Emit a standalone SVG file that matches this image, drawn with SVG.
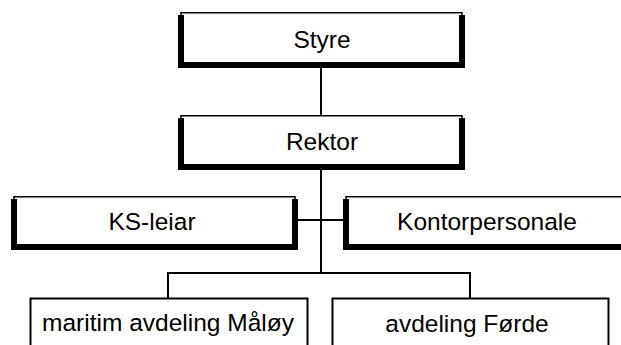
<svg xmlns="http://www.w3.org/2000/svg" width="621" height="345" viewBox="0 0 621 345">
<style>
  .thin{fill:#fff;stroke:#000;stroke-width:1.5}
  .thick{fill:none;stroke:#000;stroke-width:6;stroke-linejoin:miter;stroke-linecap:butt}
  .box{fill:#fff;stroke:#000;stroke-width:2}
  .conn{fill:none;stroke:#000;stroke-width:2}
  text{font-family:"Liberation Sans",Arial,sans-serif;font-size:24.5px;fill:#000;text-anchor:middle}
</style>
<rect width="621" height="345" fill="#fff"/>
<g id="connectors">
  <line class="conn" x1="321" y1="66" x2="321" y2="117"/>
  <line class="conn" x1="321" y1="168" x2="321" y2="274"/>
  <line class="conn" x1="296" y1="220" x2="345" y2="220"/>
  <polyline class="conn" points="168,299 168,273 470,273 470,299"/>
</g>
<g id="styre">
  <rect class="thin" x="181" y="12.75" width="281" height="52"/>
  <path class="thick" d="M181,15 V65 H462 V15"/>
  <text x="322" y="48">Styre</text>
</g>
<g id="rektor">
  <rect class="thin" x="181" y="115.75" width="281" height="51"/>
  <path class="thick" d="M181,118 V167 H462 V118"/>
  <text x="322" y="150">Rektor</text>
</g>
<g id="ks-leiar">
  <rect class="thin" x="14" y="196.75" width="281" height="50"/>
  <path class="thick" d="M14,199 V247 H295 V199"/>
  <text x="152" y="230">KS-leiar</text>
</g>
<g id="kontorpersonale">
  <rect class="thin" x="346" y="196.75" width="281" height="50"/>
  <path class="thick" d="M346,199 V247 H627 V199"/>
  <text x="487" y="230">Kontorpersonale</text>
</g>
<g id="maritim">
  <rect class="box" x="30.5" y="298.5" width="277" height="60"/>
  <text x="168" y="331">maritim avdeling Måløy</text>
</g>
<g id="forde">
  <rect class="box" x="332.5" y="298.5" width="276" height="60"/>
  <text x="467" y="332">avdeling Førde</text>
</g>
</svg>
